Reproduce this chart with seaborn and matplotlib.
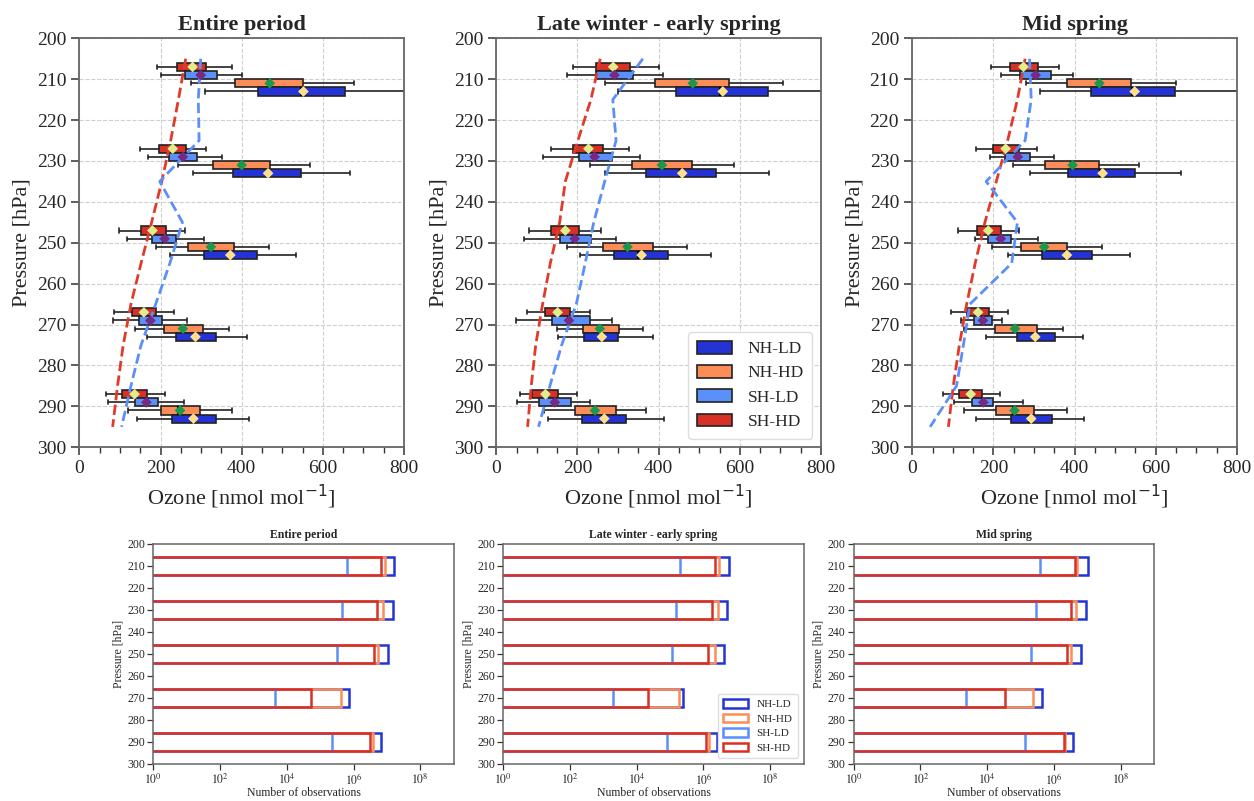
import matplotlib
matplotlib.use("Agg")
import numpy as np
import pandas as pd
import matplotlib.pyplot as plt
import seaborn as sns
from matplotlib.patches import Patch
from matplotlib.ticker import MultipleLocator, FixedLocator, NullLocator, FixedFormatter

# ---------------- data ----------------
LEVELS = [210, 230, 250, 270, 290]
GROUPS = ["SH-HD", "SH-LD", "NH-HD", "NH-LD"]          # top-to-bottom within each cluster
LEGEND_ORDER = ["NH-LD", "NH-HD", "SH-LD", "SH-HD"]
PERIODS = ["Entire period", "Late winter - early spring", "Mid spring"]

# box statistics per level: [whisker low, q1, median, q3, whisker high, mean]
ENT_SHHD = [[192, 241, 277, 313, 377, 279], [149, 197, 228, 262, 313, 230], [98, 151, 178, 214, 261, 180],
            [85, 130, 156, 189, 234, 159], [65, 106, 134, 166, 211, 136]]
ENT_SHLD = [[201, 260, 297, 340, 400, 299], [170, 221, 253, 289, 352, 255], [118, 180, 207, 239, 306, 210],
            [83, 148, 173, 204, 266, 175], [70, 136, 163, 193, 259, 165]]
ENT_NHHD = [[275, 384, 466, 552, 676, 469], [242, 330, 398, 469, 569, 400], [188, 267, 321, 382, 468, 324],
            [136, 209, 253, 305, 368, 255], [120, 202, 244, 297, 377, 248]]
ENT_NHLD = [[310, 441, 545, 654, 870, 552], [280, 379, 462, 546, 666, 465], [223, 307, 368, 437, 533, 372],
            [166, 239, 284, 336, 412, 286], [143, 229, 277, 336, 419, 281]]

LWS_SHHD = [[189, 245, 286, 329, 400, 288], [134, 190, 224, 264, 326, 227], [81, 135, 168, 203, 257, 170],
            [75, 119, 149, 182, 230, 151], [58, 89, 119, 151, 198, 121]]
LWS_SHLD = [[174, 245, 289, 337, 410, 291], [114, 204, 240, 286, 355, 242], [69, 157, 190, 234, 296, 193],
            [49, 138, 177, 230, 285, 179], [52, 105, 142, 183, 232, 144]]
LWS_NHHD = [[268, 391, 481, 574, 707, 484], [232, 334, 405, 482, 586, 408], [175, 264, 320, 385, 471, 323],
            [149, 213, 252, 302, 361, 255], [118, 195, 240, 294, 370, 243]]
LWS_NHLD = [[300, 442, 551, 669, 870, 558], [268, 370, 452, 542, 672, 458], [207, 291, 348, 422, 528, 358],
            [151, 217, 257, 299, 387, 260], [127, 212, 260, 320, 412, 266]]

MSP_SHHD = [[193, 240, 272, 309, 362, 274], [157, 200, 228, 262, 308, 230], [113, 159, 185, 218, 262, 187],
            [95, 134, 160, 190, 235, 162], [75, 116, 142, 173, 215, 144]]
MSP_SHLD = [[218, 266, 302, 342, 396, 304], [192, 229, 258, 289, 350, 260], [155, 187, 216, 243, 311, 218],
            [119, 151, 172, 196, 220, 174], [104, 147, 173, 198, 272, 175]]
MSP_NHHD = [[280, 381, 458, 540, 650, 461], [249, 328, 392, 461, 558, 395], [196, 267, 322, 381, 467, 325],
            [128, 203, 250, 307, 372, 253], [128, 206, 249, 300, 381, 252]]
MSP_NHLD = [[315, 440, 542, 647, 870, 548], [289, 384, 463, 550, 663, 469], [236, 319, 376, 444, 536, 381],
            [181, 259, 300, 351, 420, 303], [158, 244, 288, 345, 423, 293]]

# dashed reference profiles
PROFILE_P = [205, 215, 225, 235, 245, 255, 265, 275, 285, 295]
ENT_RED = [262, 244, 225, 203, 178, 152, 127, 108, 94, 82]
ENT_BLUE = [299, 293, 295, 198, 254, 223, 188, 152, 127, 104]
LWS_RED = [256, 233, 201, 170, 156, 133, 114, 97, 86, 77]
LWS_BLUE = [361, 287, 295, 267, 240, 219, 197, 161, 132, 104]
MSP_RED = [278, 259, 235, 207, 179, 155, 134, 116, 101, 89]
MSP_BLUE = [289, 293, 278, 182, 259, 245, 142, 126, 109, 44]

# number of observations per level
ENT_N_NHLD = [1.62e7, 1.48e7, 1.07e7, 7.1e5, 6.8e6]
ENT_N_NHHD = [8.5e6, 7.6e6, 5.6e6, 4.3e5, 3.8e6]
ENT_N_SHLD = [6.2e5, 4.6e5, 3.2e5, 4.3e3, 2.3e5]
ENT_N_SHHD = [6.5e6, 5.1e6, 4.1e6, 5.5e4, 3.1e6]
LWS_N_NHLD = [5.8e6, 5.2e6, 4.0e6, 2.5e5, 2.6e6]
LWS_N_NHHD = [3.0e6, 2.8e6, 2.2e6, 1.9e5, 1.5e6]
LWS_N_SHLD = [2.0e5, 1.5e5, 1.1e5, 2.0e3, 8.3e4]
LWS_N_SHHD = [2.2e6, 1.8e6, 1.4e6, 2.1e4, 1.2e6]
MSP_N_NHLD = [1.02e7, 8.9e6, 6.3e6, 4.3e5, 3.8e6]
MSP_N_NHHD = [5.1e6, 4.5e6, 3.2e6, 2.3e5, 2.2e6]
MSP_N_SHLD = [3.9e5, 3.0e5, 2.1e5, 2.3e3, 1.4e5]
MSP_N_SHHD = [4.3e6, 3.2e6, 2.5e6, 3.5e4, 2.0e6]

# ---------------- styling ----------------
COLORS = {"NH-LD": "#2433d6", "NH-HD": "#fc8d59", "SH-LD": "#5b8ff9", "SH-HD": "#d73027"}
MEAN_COLORS = {"SH-HD": "#dfed8c", "SH-LD": "#762a83", "NH-HD": "#1a9850", "NH-LD": "#fee08b"}
OFFSETS = {"SH-HD": -3, "SH-LD": -1, "NH-HD": 1, "NH-LD": 3}

sns.set_style("ticks")
plt.rcParams["font.family"] = ["Liberation Serif", "DejaVu Serif"]

box_sets = [
    {"SH-HD": ENT_SHHD, "SH-LD": ENT_SHLD, "NH-HD": ENT_NHHD, "NH-LD": ENT_NHLD},
    {"SH-HD": LWS_SHHD, "SH-LD": LWS_SHLD, "NH-HD": LWS_NHHD, "NH-LD": LWS_NHLD},
    {"SH-HD": MSP_SHHD, "SH-LD": MSP_SHLD, "NH-HD": MSP_NHHD, "NH-LD": MSP_NHLD},
]
profiles = [(ENT_RED, ENT_BLUE), (LWS_RED, LWS_BLUE), (MSP_RED, MSP_BLUE)]
count_sets = [
    {"NH-LD": ENT_N_NHLD, "NH-HD": ENT_N_NHHD, "SH-LD": ENT_N_SHLD, "SH-HD": ENT_N_SHHD},
    {"NH-LD": LWS_N_NHLD, "NH-HD": LWS_N_NHHD, "SH-LD": LWS_N_SHLD, "SH-HD": LWS_N_SHHD},
    {"NH-LD": MSP_N_NHLD, "NH-HD": MSP_N_NHHD, "SH-LD": MSP_N_SHLD, "SH-HD": MSP_N_SHHD},
]

fig = plt.figure(figsize=(12.54, 8.01), dpi=100)
top_lefts = [0.0633, 0.3958, 0.7275]
bot_lefts = [0.1223, 0.4014, 0.6808]

SPINE = "#666666"

for i, period in enumerate(PERIODS):
    # ---------- top: box plots ----------
    ax = fig.add_axes([top_lefts[i], 0.4416, 0.2589, 0.5106])
    rows, mrows = [], []
    for g in GROUPS:
        for lev, st in zip(LEVELS, box_sets[i][g]):
            for v in st[:5]:
                rows.append((g, lev, v))
            mrows.append((g, lev + OFFSETS[g], st[5]))
    df = pd.DataFrame(rows, columns=["group", "level", "value"])
    dm = pd.DataFrame(mrows, columns=["group", "pos", "mean"])

    sns.boxplot(data=df, x="value", y="level", hue="group", hue_order=GROUPS,
                palette=COLORS, orient="y", native_scale=True, width=0.4, dodge=True, gap=0,
                whis=(0, 100), saturation=1, linecolor="#222222", linewidth=1.2,
                medianprops=dict(color="black", linewidth=1.5), showfliers=False,
                legend=False, ax=ax, zorder=2)

    red, blue = profiles[i]
    sns.lineplot(x=red, y=PROFILE_P, orient="y", color="#e03a2a", linestyle="--",
                 linewidth=2, ax=ax, zorder=4)
    sns.lineplot(x=blue, y=PROFILE_P, orient="y", color="#5b8ff9", linestyle="--",
                 linewidth=2, ax=ax, zorder=4)

    for g in GROUPS:
        sub = dm[dm.group == g]
        sns.scatterplot(x=sub["mean"], y=sub["pos"], marker="D", s=30, color=MEAN_COLORS[g],
                        edgecolor="none", ax=ax, zorder=6)

    ax.set_xlim(0, 800)
    ax.set_ylim(300, 200)
    ax.xaxis.set_major_locator(MultipleLocator(200))
    ax.xaxis.set_minor_locator(MultipleLocator(50))
    ax.yaxis.set_major_locator(MultipleLocator(10))
    ax.yaxis.set_minor_locator(NullLocator())
    ax.grid(True, which="major", linestyle="--", color="#cfcfcf", linewidth=0.8)
    ax.set_axisbelow(True)
    ax.tick_params(axis="both", which="major", labelsize=14, length=6, width=1.1, color="#333333")
    ax.tick_params(axis="x", which="minor", length=4, width=1.0, color="#333333")
    for s in ax.spines.values():
        s.set_color(SPINE)
        s.set_linewidth(1.3)
    ax.set_title(period, fontsize=16, fontweight="bold", pad=6)
    ax.set_xlabel(r"Ozone [nmol mol$^{-1}$]", fontsize=16)
    ax.set_ylabel("Pressure [hPa]", fontsize=16, labelpad=4)

    if i == 1:
        handles = [Patch(facecolor=COLORS[g], edgecolor="#222222", linewidth=1.2, label=g)
                   for g in LEGEND_ORDER]
        ax.legend(handles=handles, loc="lower right", fontsize=12.5, handlelength=2.0,
                  handleheight=0.75, labelspacing=0.45, borderpad=0.5, handletextpad=0.9,
                  frameon=True, framealpha=1, edgecolor="#dddddd", fancybox=True)

    # ---------- bottom: observation counts ----------
    bx = fig.add_axes([bot_lefts[i], 0.0462, 0.2394, 0.2747])
    for g in LEGEND_ORDER:
        sns.barplot(x=count_sets[i][g], y=LEVELS, orient="y", native_scale=True, fill=False,
                    color=COLORS[g], width=0.4, linewidth=1.8, errorbar=None,
                    log_scale=(True, False), ax=bx)
    bx.set_xscale("log")
    bx.set_xlim(1, 1e9)
    bx.set_ylim(300, 200)
    bx.xaxis.set_major_locator(FixedLocator([1, 1e2, 1e4, 1e6, 1e8]))
    bx.xaxis.set_major_formatter(FixedFormatter([r"$10^{0}$", r"$10^{2}$", r"$10^{4}$",
                                                 r"$10^{6}$", r"$10^{8}$"]))
    bx.xaxis.set_minor_locator(NullLocator())
    bx.yaxis.set_major_locator(MultipleLocator(10))
    bx.yaxis.set_minor_locator(NullLocator())
    bx.tick_params(axis="both", labelsize=8.5, length=4, width=0.9, color="#333333", pad=2)
    for lab in bx.get_xticklabels():
        lab.set_math_fontfamily("stix")
    for s in bx.spines.values():
        s.set_color(SPINE)
        s.set_linewidth(1.1)
    bx.set_title(period, fontsize=8.5, fontweight="bold", pad=4)
    bx.set_xlabel("Number of observations", fontsize=8.5, labelpad=0)
    bx.set_ylabel("Pressure [hPa]", fontsize=8.5, labelpad=2)

    if i == 1:
        h2 = [Patch(facecolor="none", edgecolor=COLORS[g], linewidth=1.8, label=g)
              for g in LEGEND_ORDER]
        bx.legend(handles=h2, loc="lower right", fontsize=8, handlelength=2.2,
                  handleheight=0.8, labelspacing=0.4, borderpad=0.5,
                  frameon=True, framealpha=1, edgecolor="#dddddd", fancybox=True)

fig.savefig("out.png", dpi=100)
